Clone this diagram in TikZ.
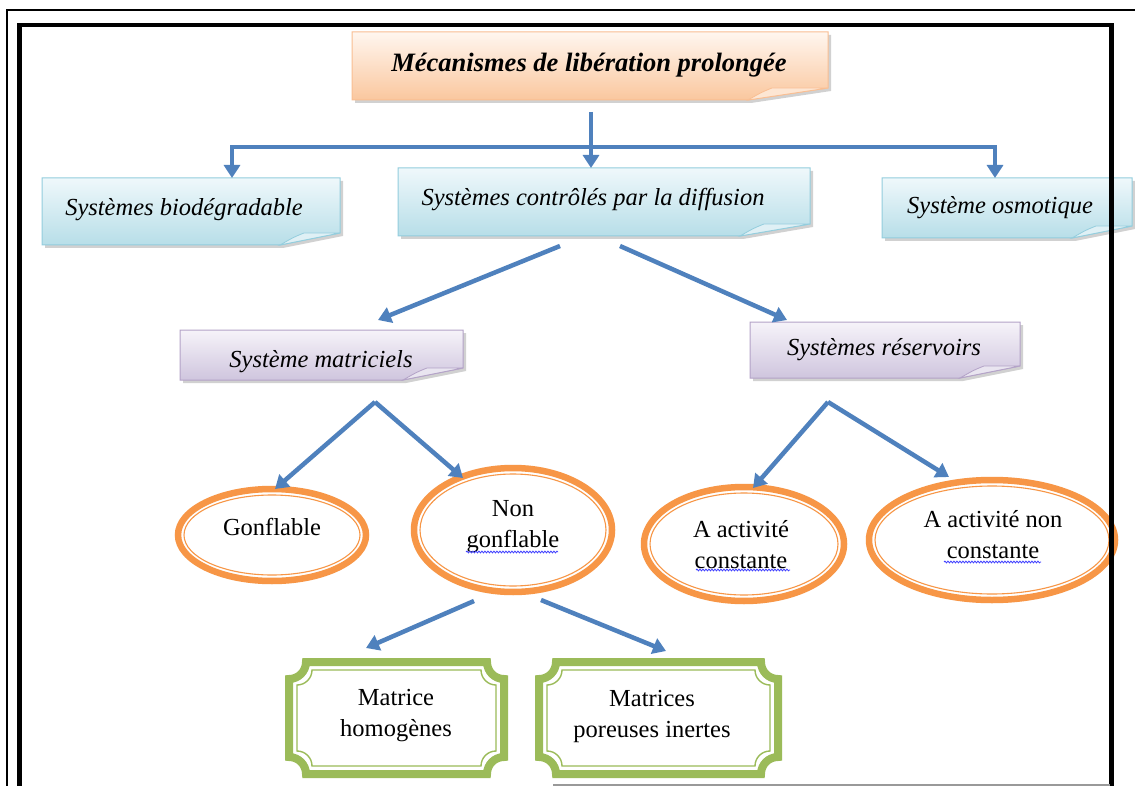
\documentclass[tikz,border=0pt]{standalone}
\usepackage{fontspec}
\setmainfont{Liberation Serif}
\usetikzlibrary{arrows.meta,decorations.pathmorphing}

\definecolor{arrblue}{HTML}{4F81BD}
\definecolor{ovor}{HTML}{F79646}
\definecolor{grn}{HTML}{9BBB59}
\definecolor{orTop}{HTML}{FFF6EF}
\definecolor{orBot}{HTML}{FAC79E}
\definecolor{orLine}{HTML}{F9BE92}
\definecolor{blTop}{HTML}{EFF8FB}
\definecolor{blBot}{HTML}{B7DEE8}
\definecolor{blLine}{HTML}{93CDDD}
\definecolor{puTop}{HTML}{F6F3F9}
\definecolor{puBot}{HTML}{CFC5DE}
\definecolor{puLine}{HTML}{B3A2C7}

\tikzset{
  arr/.style={draw=arrblue, line width=4.5pt, -{Triangle[length=13pt,width=16pt]}},
  arr2/.style={draw=arrblue, line width=4.5pt, {Triangle[length=13pt,width=16pt]}-{Triangle[length=13pt,width=16pt]}},
  hdr/.style={font=\fontsize{24.5}{28}\selectfont\itshape, inner sep=0pt},
  ttl/.style={font=\fontsize{26.5}{30}\selectfont\bfseries\itshape, inner sep=0pt},
  lbl/.style={font=\fontsize{24.5}{31}\selectfont, align=center, inner sep=0pt},
  squig/.style={draw=blue!75, line width=0.8pt, decorate,
    decoration={snake, amplitude=0.9pt, segment length=3pt}},
}

% box with a folded bottom-right corner: left, top, right, bottom, top colour, bottom colour, border, fold width
\newcommand\foldbox[8]{%
  \fill[black, opacity=.18] (#1+3,#2+3) -- (#3+3,#2+3) -- (#3+3,#4-9) -- (#3-#8+3,#4+3) -- (#1+3,#4+3) -- cycle;
  \shadedraw[top color=#5, bottom color=#6, draw=#7, line width=1pt]
    (#1,#2) -- (#3,#2) -- (#3,#4-12) -- (#3-#8,#4) -- (#1,#4) -- cycle;
  \filldraw[fill=#6!45!white, draw=#7, line width=.8pt]
    (#3-#8,#4) .. controls (#3-#8+14,#4-8) .. (#3-#8+24,#4-12) -- (#3,#4-12) -- cycle;
}

% orange thick-thin ring: centre, x radius, y radius
\newcommand\ovalring[3]{%
  \draw[ovor, line width=6.5pt] (#1) ellipse [x radius=#2, y radius=#3];
  \draw[ovor, line width=1.1pt] (#1) ellipse [x radius=#2-6, y radius=#3-6];
}

% green frame with concave corners: left, top, right, bottom of the outer edge
\newcommand\gframe[4]{%
  \draw[grn, line width=8pt]
    (#1+4+17,#2+4) -- (#3-4-17,#2+4) arc[start angle=180,end angle=90,radius=17]
    -- (#3-4,#4-4-17) arc[start angle=270,end angle=180,radius=17]
    -- (#1+4+17,#4-4) arc[start angle=0,end angle=-90,radius=17]
    -- (#1+4,#2+4+17) arc[start angle=90,end angle=0,radius=17] -- cycle;
  \draw[grn, line width=1.4pt]
    (#1+12+15,#2+12) -- (#3-12-15,#2+12) arc[start angle=180,end angle=90,radius=15]
    -- (#3-12,#4-12-15) arc[start angle=270,end angle=180,radius=15]
    -- (#1+12+15,#4-12) arc[start angle=0,end angle=-90,radius=15]
    -- (#1+12,#2+12+15) arc[start angle=90,end angle=0,radius=15] -- cycle;
}

\begin{document}
\begin{tikzpicture}[x=1pt,y=-1pt]
\useasboundingbox (0,0) rectangle (1135,786);
\fill[white] (0,0) rectangle (1135,786);

% boxes
\foldbox{352}{32}{828}{100}{orTop}{orBot}{orLine}{80}
\foldbox{42}{178}{340}{245}{blTop}{blBot}{blLine}{60}
\foldbox{398}{168}{810}{236}{blTop}{blBot}{blLine}{70}
\foldbox{882}{178}{1132}{238}{blTop}{blBot}{blLine}{60}
\foldbox{180}{330}{463}{380}{puTop}{puBot}{puLine}{60}
\foldbox{750}{322}{1020}{378}{puTop}{puBot}{puLine}{60}

% rings and frames
\ovalring{272,535}{94}{46}
\ovalring{513,530}{99}{62}
\ovalring{744,544}{100}{57}
\ovalring{992,540}{123}{60}
\gframe{285}{658}{508}{778}
\gframe{535}{658}{782}{778}

% texts
\node[ttl] (title) at (589,65) {Mécanismes de libération prolongée};
\node[hdr] (bio) at (184,210) {Systèmes biodégradable};
\node[hdr] (diff) at (593,200) {Systèmes contrôlés par la diffusion};
\node[hdr] (osm) at (1000,208) {Système osmotique};
\node[hdr] (mat) at (321,362) {Système matriciels};
\node[hdr] (res) at (884,350) {Systèmes réservoirs};
\node[lbl] (gonf) at (272,527) {Gonflable};
\node[lbl] (ngonf) at (513,527) {Non\\gonflable};
\node[lbl] (actc) at (741,545) {A activité\\constante};
\node[lbl] (actnc) at (993,535) {A activité non\\constante};
\node[lbl] (mhom) at (396,716) {Matrice\\homogènes};
\node[lbl] (mpor) at (652,716) {Matrices\\poreuses inertes};

% spelling marks under words
\draw[squig] (466,552) -- (558,552);
\draw[squig] (696,570) -- (790,570);
\draw[squig] (944,562) -- (1041,562);

% connector points
\coordinate (tOut) at (591,112);
\coordinate (hL) at (232,147);
\coordinate (hR) at (995,147);
\coordinate (bioIn) at (232,178);
\coordinate (osmIn) at (995,178);
\coordinate (diffIn) at (591,168);
\coordinate (dL) at (560,246);
\coordinate (dR) at (620,246);
\coordinate (matIn) at (378,320);
\coordinate (resIn) at (787,320);
\coordinate (mOut) at (375,402);
\coordinate (rOut) at (828,402);
\coordinate (gIn) at (275,489);
\coordinate (ngIn) at (463,478);
\coordinate (acIn) at (753,488);
\coordinate (ancIn) at (949,477);
\coordinate (ngL) at (474,601);
\coordinate (ngR) at (541,600);
\coordinate (mhIn) at (366,648);
\coordinate (mpIn) at (666,651);

% connectors
\draw[arr2] (bioIn) -- (hL) -- (hR) -- (osmIn);
\draw[arr] (tOut) -- (diffIn);
\draw[arr] (dL) -- (matIn);
\draw[arr] (dR) -- (resIn);
\draw[arr] (mOut) -- (gIn);
\draw[arr] (mOut) -- (ngIn);
\draw[arr] (rOut) -- (acIn);
\draw[arr] (rOut) -- (ancIn);
\draw[arr] (ngL) -- (mhIn);
\draw[arr] (ngR) -- (mpIn);

% page frames
\draw[black, line width=1.5pt] (7,786) -- (7,10) -- (1135,10);
\draw[black, line width=4.5pt] (19.5,786) -- (19.5,25) -- (1111.5,25) -- (1111.5,786);
\draw[black!40, line width=1.5pt] (553,785) -- (1110,785);
\end{tikzpicture}
\end{document}
